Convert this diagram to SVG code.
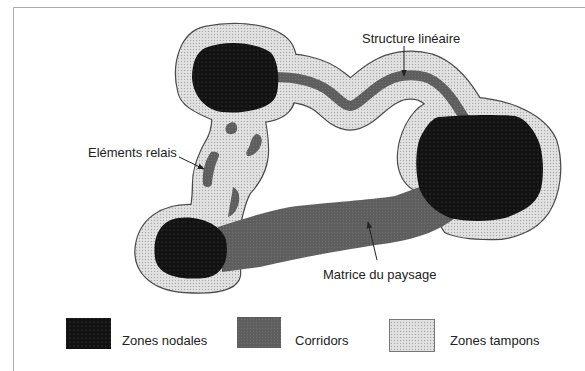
<svg xmlns="http://www.w3.org/2000/svg" width="585" height="371" viewBox="0 0 585 371">
<defs>
<pattern id="pBuf" width="3" height="3" patternUnits="userSpaceOnUse"><rect width="3" height="3" fill="#e2e2e2"/><circle cx="1.5" cy="1.5" r="0.7" fill="#aaaaaa"/></pattern>
<pattern id="pNod" width="4" height="4" patternUnits="userSpaceOnUse"><rect width="4" height="4" fill="#121212"/><circle cx="2" cy="2" r="0.6" fill="#4a4a4a"/></pattern>
<pattern id="pCor" width="3" height="3" patternUnits="userSpaceOnUse"><rect width="3" height="3" fill="#5e5e5e"/><circle cx="1.5" cy="1.5" r="0.6" fill="#727272"/></pattern>
<marker id="ah" viewBox="0 0 10 10" refX="9" refY="5" markerWidth="7" markerHeight="7" markerUnits="userSpaceOnUse" orient="auto"><path d="M0,1 L10,5 L0,9 Z" fill="#222"/></marker>
</defs>
<style>
.lbl{font-family:"Liberation Sans",Arial,sans-serif;font-size:13px;fill:#222}
.bo{stroke:#4a4a4a;stroke-width:2.4;fill:#4a4a4a}
.bf{fill:url(#pBuf);stroke:none}
.nod{fill:url(#pNod)}
.cor{fill:url(#pCor)}
.arr{stroke:#222;stroke-width:1;fill:none;marker-end:url(#ah)}
</style>
<rect width="585" height="371" fill="#fff"/>
<path d="M13.5,371 V7.5 H585" fill="none" stroke="#aaa" stroke-width="1"/>

<g id="zones-tampons">
<path class="bo" d="M205,27 C240,20 280,25 292,45 C300,60 300,100 288,112 C278,122 262,122 250,122 L214,120 C195,112 180,105 178,90 C172,65 180,32 205,27 Z"/>
<path class="bo" d="M212,110 L262,106 C265,120 268,135 268,150 C268,165 262,180 250,193 C246,200 243,210 240,225 L240,238 L186,238 C192,205 193,197 193,185 C193,170 197,160 203,147 C208,138 214,130 212,110 Z"/>
<path class="bo" d="M190,205 C160,205 140,220 136,245 C132,270 150,290 185,292 C215,294 238,290 240,275 L240,230 C230,210 215,205 190,205 Z"/>
<path class="bo" d="M475,98 C510,100 545,115 556,140 C564,165 560,195 548,213 C535,232 510,240 490,239 C470,239 455,237 445,232 L420,192 C405,188 397,172 398,155 C399,135 410,112 425,104 C440,98 460,97 475,98 Z"/>
<path d="M272,77 C295,77 315,80 330,92 C340,100 345,106 350,106 C358,106 370,90 385,82 C395,76 410,73 425,77 C440,82 450,95 458,108 L472,130" fill="none" stroke="#4a4a4a" stroke-width="49.4"/>
<path class="bf" d="M205,27 C240,20 280,25 292,45 C300,60 300,100 288,112 C278,122 262,122 250,122 L214,120 C195,112 180,105 178,90 C172,65 180,32 205,27 Z"/>
<path class="bf" d="M212,110 L262,106 C265,120 268,135 268,150 C268,165 262,180 250,193 C246,200 243,210 240,225 L240,238 L186,238 C192,205 193,197 193,185 C193,170 197,160 203,147 C208,138 214,130 212,110 Z"/>
<path class="bf" d="M190,205 C160,205 140,220 136,245 C132,270 150,290 185,292 C215,294 238,290 240,275 L240,230 C230,210 215,205 190,205 Z"/>
<path class="bf" d="M475,98 C510,100 545,115 556,140 C564,165 560,195 548,213 C535,232 510,240 490,239 C470,239 455,237 445,232 L420,192 C405,188 397,172 398,155 C399,135 410,112 425,104 C440,98 460,97 475,98 Z"/>
<path d="M272,77 C295,77 315,80 330,92 C340,100 345,106 350,106 C358,106 370,90 385,82 C395,76 410,73 425,77 C440,82 450,95 458,108 L472,130" fill="none" stroke="url(#pBuf)" stroke-width="47"/>
</g>

<g id="corridors">
<path id="structure-lineaire" d="M272,77 C295,77 315,80 330,92 C340,100 345,106 350,106 C358,106 370,90 385,82 C395,76 410,73 425,77 C440,82 450,95 458,108 L472,130" fill="none" stroke="url(#pCor)" stroke-width="10"/>
<path id="corridor-principal" class="cor" d="M218,227 C240,220 260,213 290,207 C330,202 370,200 395,196 L425,185 L455,218 C440,230 420,238 390,243 C340,250 300,258 260,267 L222,272 Z"/>
</g>

<g id="elements-relais">
<path class="cor" d="M228,124 C232,121 237,122 237,127 C238,132 234,135 229,134 C225,133 224,127 228,124 Z"/>
<path class="cor" d="M256,134 C261,134 263,139 261,145 C259,150 256,154 250,156 C246,157 245,153 248,149 C251,145 250,138 256,134 Z"/>
<path class="cor" d="M211,152 C216,151 220,153 219,156 C216,163 213,171 212,184 C211,188 204,188 203,184 C202,172 205,160 211,152 Z"/>
<path class="cor" d="M233,187 C240,190 241,200 237,208 C235,213 231,216 228,217 C229,210 231,200 233,187 Z"/>
</g>

<g id="zone-nodale-nw"><path class="nod" d="M205,48 C225,40 255,42 270,52 C280,60 280,90 275,98 C268,110 240,114 222,112 C205,110 193,95 192,78 C192,62 197,52 205,48 Z"/></g>
<g id="zone-nodale-e"><path class="nod" d="M438,117 C460,115 495,114 515,116 C525,118 535,130 540,145 C544,160 544,180 540,192 C535,205 522,212 505,218 C490,222 465,222 450,218 C435,212 425,202 420,190 C415,175 415,150 420,138 C425,128 430,120 438,117 Z"/></g>
<g id="zone-nodale-sw"><path class="nod" d="M178,218 C200,215 222,225 226,240 C230,260 222,276 205,278 C185,280 158,278 155,258 C152,235 162,220 178,218 Z"/></g>

<g id="connectors">
<line class="arr" x1="404" y1="46" x2="404" y2="76"/>
<line class="arr" x1="179" y1="157" x2="204" y2="169"/>
<line class="arr" x1="377" y1="260" x2="368" y2="222"/>
</g>

<g id="labels">
<text class="lbl" x="362" y="43">Structure linéaire</text>
<text class="lbl" x="88" y="157">Eléments relais</text>
<text class="lbl" x="323" y="279">Matrice du paysage</text>
</g>

<g id="legend">
<g id="legend-nodales"><rect x="66" y="318" width="45" height="31" class="nod"/><text class="lbl" x="122" y="345">Zones nodales</text></g>
<g id="legend-corridors"><rect x="237" y="317" width="44" height="31" class="cor"/><text class="lbl" x="295" y="345">Corridors</text></g>
<g id="legend-tampons"><rect x="389.5" y="319.5" width="45" height="32" fill="url(#pBuf)" stroke="#777" stroke-width="1"/><text class="lbl" x="450" y="345">Zones tampons</text></g>
</g>
</svg>
